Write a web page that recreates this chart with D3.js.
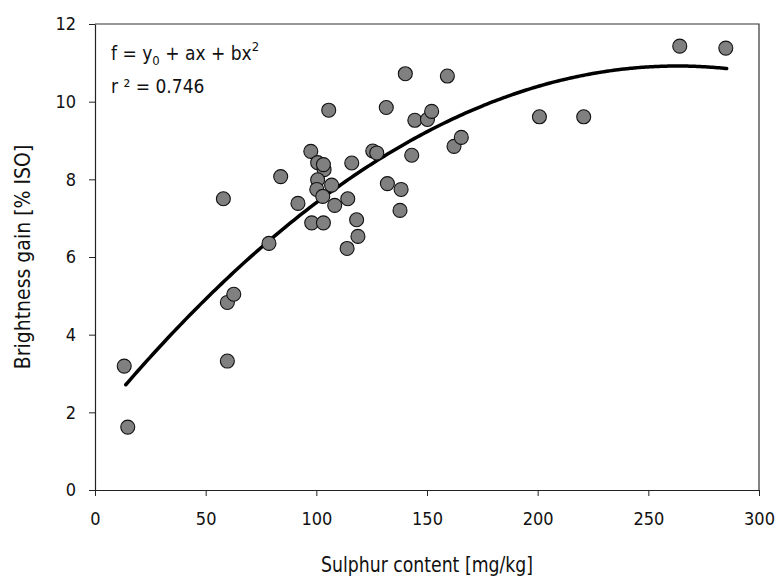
<!DOCTYPE html>
<html>
<head>
<meta charset="utf-8">
<script src="https://cdn.jsdelivr.net/npm/d3@7"></script>
<style>
  html, body { margin: 0; padding: 0; background: #fff; }
  svg { display: block; }
  text { font-family: "Liberation Sans Narrow", "Arial Narrow", "DejaVu Sans Condensed", sans-serif; fill: #111; }
</style>
</head>
<body>
<svg id="chart" width="780" height="578"></svg>
<script>
// Sulphur content (mg/kg) of each sample
const sulphur = [13.2, 14.8, 59.8, 62.7, 59.8, 58.0, 78.6, 83.9, 91.7, 97.5,
                 97.9, 103.2, 100.6, 103.5, 103.2, 100.6, 100.2, 102.9, 106.9, 108.3,
                 114.2, 116.0, 118.2, 118.8, 113.9, 125.5, 127.3, 140.2, 159.2, 131.6,
                 105.6, 144.5, 150.2, 152.1, 162.2, 165.5, 143.1, 132.1, 138.3, 137.8,
                 200.8, 220.8, 264.2, 285.0];
// Brightness gain (% ISO) of each sample
const brightness = [3.19, 1.62, 4.83, 5.04, 3.32, 7.50, 6.35, 8.07, 7.38, 8.72,
                    6.88, 6.88, 8.43, 8.25, 8.38, 7.99, 7.74, 7.56, 7.85, 7.33,
                    7.50, 8.42, 6.96, 6.53, 6.22, 8.73, 8.68, 10.72, 10.66, 9.85,
                    9.78, 9.52, 9.54, 9.75, 8.85, 9.08, 8.62, 7.89, 7.74, 7.20,
                    9.61, 9.61, 11.43, 11.38];

// Quadratic regression f = y0 + a·x + b·x²
const fitY0 = 1.77, fitA = 0.0695, fitB = -0.000132;
const fitRange = [13.9, 285.4];
const rSquared = "0.746";

const xTicks = [0, 50, 100, 150, 200, 250, 300];
const yTicks = [0, 2, 4, 6, 8, 10, 12];

const svg = d3.select("#chart");
const W = 780, H = 578;
const m = { left: 95, right: 21, top: 24, bottom: 88 };
const iw = W - m.left - m.right, ih = H - m.top - m.bottom;

const x = d3.scaleLinear().domain([0, 300]).range([m.left, m.left + iw]);
const y = d3.scaleLinear().domain([0, 12]).range([m.top + ih, m.top]);

// frame: top and right edges
svg.append("path")
  .attr("d", `M${x(0)},${y(12)}H${x(300)}V${y(0)}`)
  .attr("fill", "none").attr("stroke", "#333").attr("stroke-width", 1.2);

// axes
const xAxis = svg.append("g")
  .attr("transform", `translate(0,${y(0)})`)
  .call(d3.axisBottom(x).tickValues(xTicks).tickSize(6).tickSizeOuter(0).tickPadding(16));
const yAxis = svg.append("g")
  .attr("transform", `translate(${x(0)},0)`)
  .call(d3.axisLeft(y).tickValues(yTicks).tickSize(6).tickSizeOuter(0).tickPadding(13));
[xAxis, yAxis].forEach(g => {
  g.select(".domain").attr("stroke", "#222").attr("stroke-width", 1.2);
  g.selectAll(".tick line").attr("stroke", "#222").attr("stroke-width", 1);
  g.selectAll(".tick text").attr("font-size", 18).attr("fill", "#111")
    .style("font-family", "\"Liberation Sans Narrow\", \"Arial Narrow\", \"DejaVu Sans Condensed\", sans-serif");
});

// fitted curve
const curvePts = d3.range(fitRange[0], fitRange[1] + 0.01, (fitRange[1] - fitRange[0]) / 200)
  .map(v => [v, fitY0 + fitA * v + fitB * v * v]);
svg.append("path")
  .datum(curvePts)
  .attr("d", d3.line().x(d => x(d[0])).y(d => y(d[1])).curve(d3.curveMonotoneX))
  .attr("fill", "none").attr("stroke", "#000").attr("stroke-width", 3.5)
  .attr("stroke-linecap", "round");

// sample points
svg.append("g").selectAll("circle")
  .data(sulphur.map((s, i) => [s, brightness[i]]))
  .join("circle")
  .attr("cx", d => x(d[0]))
  .attr("cy", d => y(d[1]))
  .attr("r", 7)
  .attr("fill", "#808080")
  .attr("stroke", "#111")
  .attr("stroke-width", 1.1);

// regression equation
const eq = svg.append("text").attr("x", x(0) + 16).attr("y", 60).attr("font-size", 19);
eq.append("tspan").text("f = y");
eq.append("tspan").attr("font-size", 13).attr("dy", 5).text("0");
eq.append("tspan").attr("dy", -5).text(" + ax + bx");
eq.append("tspan").attr("font-size", 13).attr("dy", -9).text("2");
svg.append("text").attr("x", x(0) + 16).attr("y", 93).attr("font-size", 19)
  .text("r \u00B2 = " + rSquared);

// axis titles
svg.append("text")
  .attr("x", x(150)).attr("y", 572)
  .attr("text-anchor", "middle").attr("font-size", 21)
  .attr("textLength", 212).attr("lengthAdjust", "spacingAndGlyphs")
  .text("Sulphur content [mg/kg]");
svg.append("text")
  .attr("transform", `translate(30,${y(6)}) rotate(-90)`)
  .attr("text-anchor", "middle").attr("font-size", 21)
  .text("Brightness gain [% ISO]");
</script>
</body>
</html>
